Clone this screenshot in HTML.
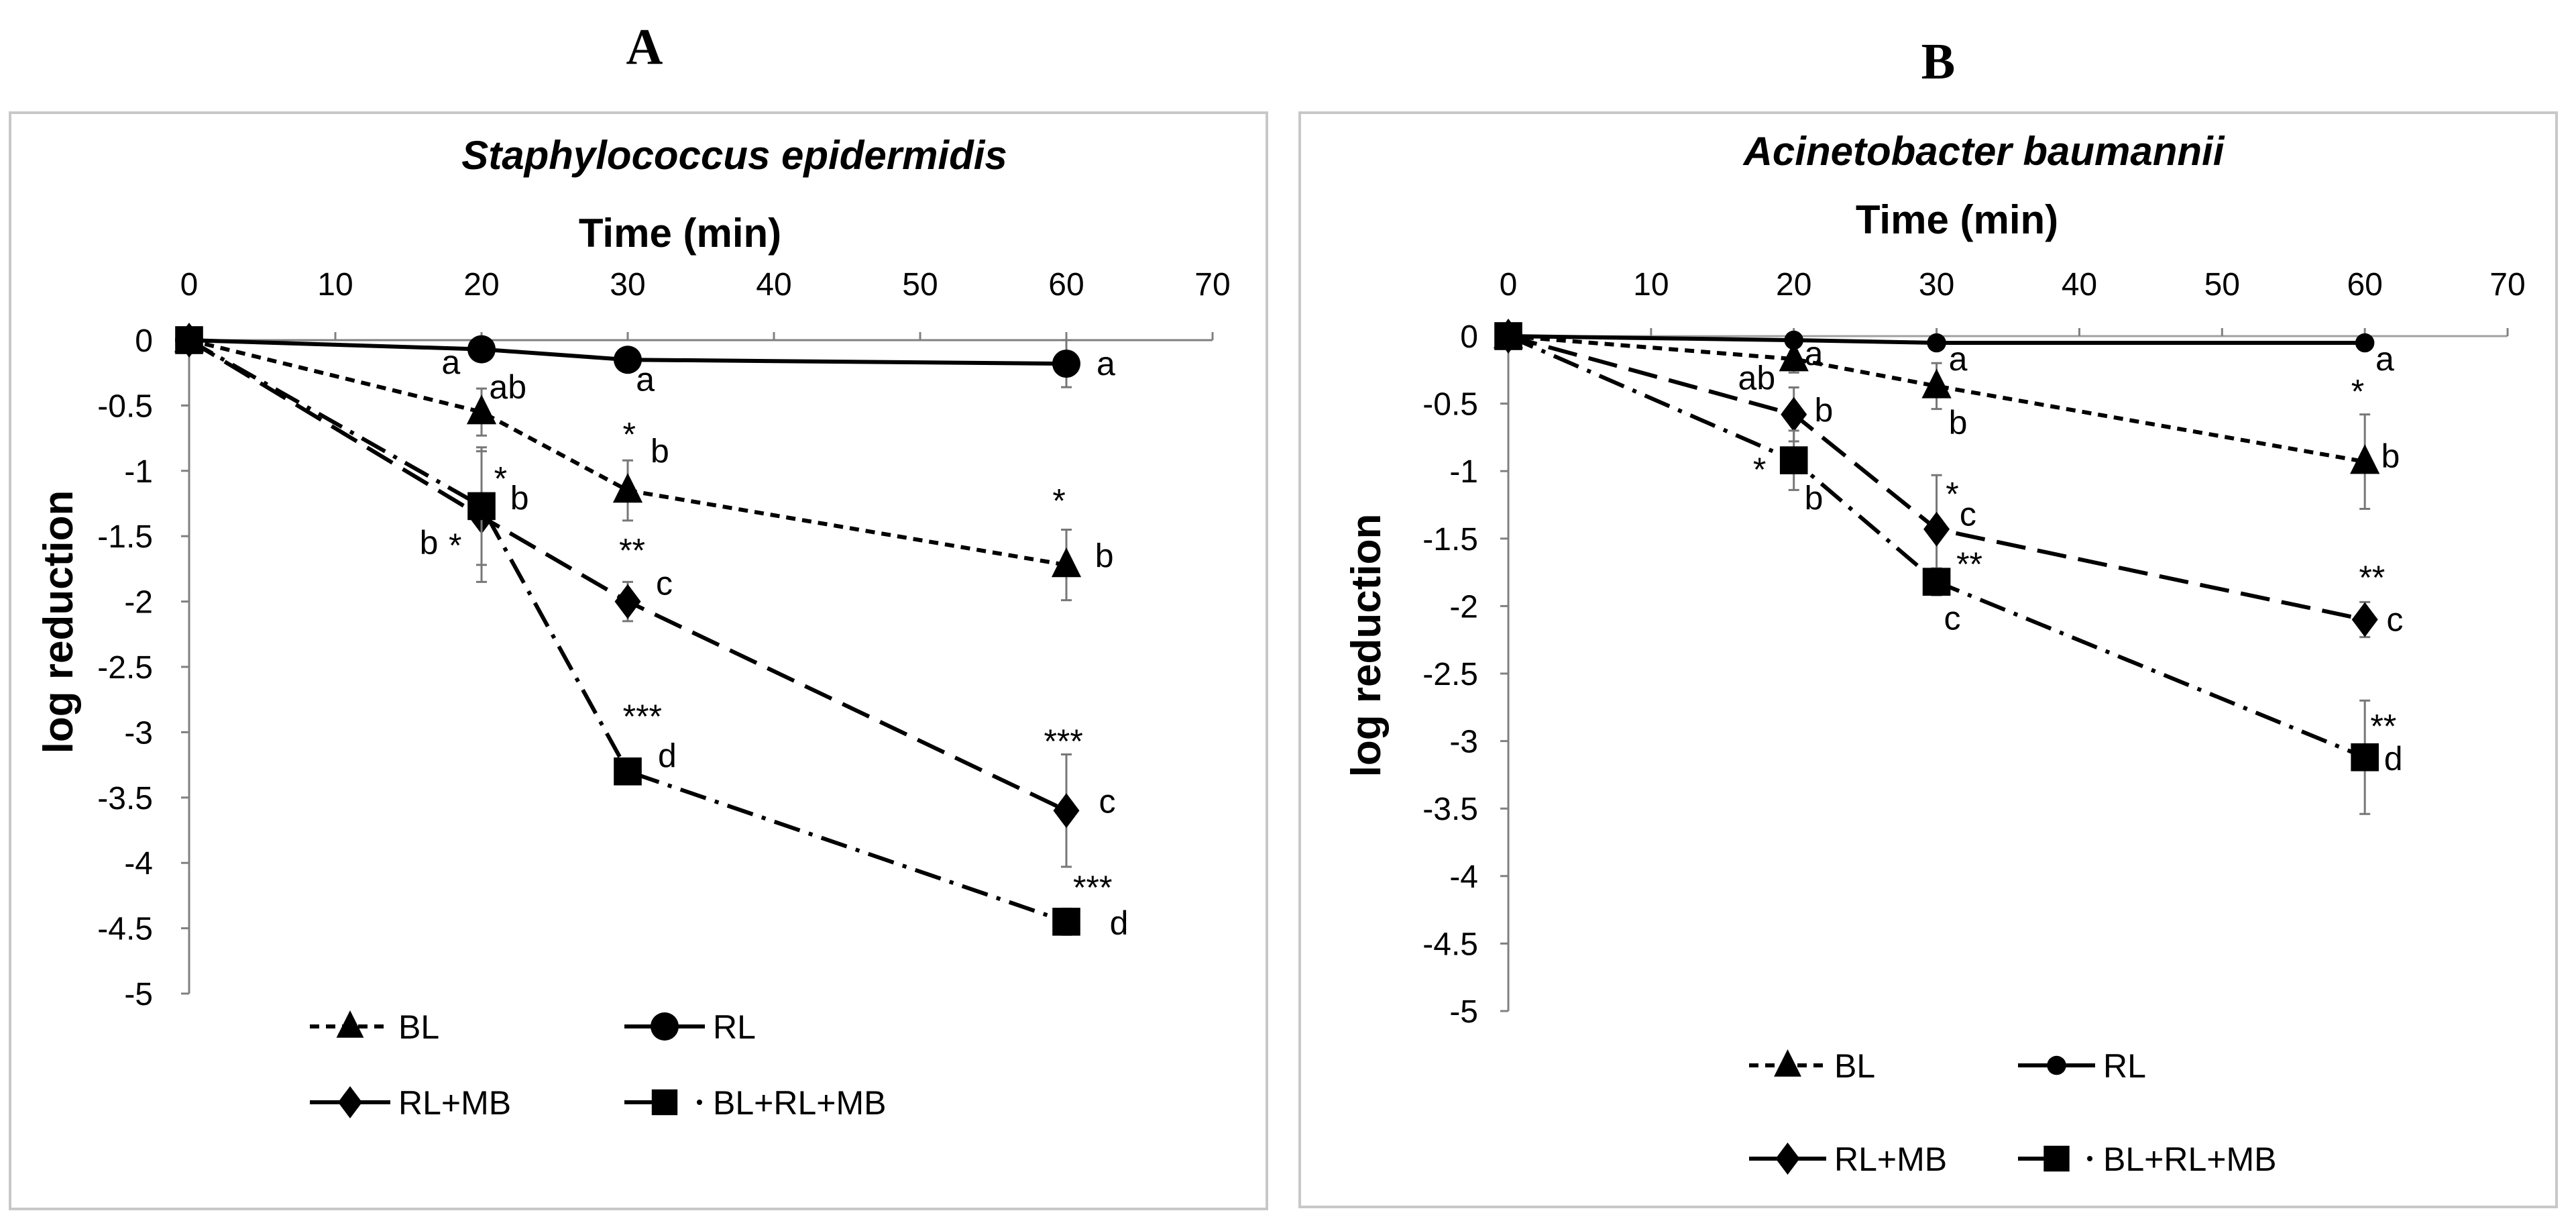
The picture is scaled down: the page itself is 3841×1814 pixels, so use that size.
<!DOCTYPE html>
<html><head><meta charset="utf-8"><style>
html,body{margin:0;padding:0;background:#fff}
svg{display:block}
text{font-family:"Liberation Sans",sans-serif;fill:#000}
</style></head><body>
<svg id="svg" width="3841" height="1814" viewBox="0 0 3841 1814" xmlns="http://www.w3.org/2000/svg">
<rect x="15" y="168" width="1874" height="1634" fill="#fff" stroke="#c8c8c8" stroke-width="4"/>
<rect x="1938" y="168" width="1874" height="1631" fill="#fff" stroke="#c8c8c8" stroke-width="4"/>
<text x="961" y="95" text-anchor="middle" style="font-family:'Liberation Serif',serif;font-weight:bold;font-size:76px">A</text>
<text x="2890" y="117" text-anchor="middle" style="font-family:'Liberation Serif',serif;font-weight:bold;font-size:76px">B</text>
<g id="ga"></g><g id="gb"></g>
</svg>
<script>
const xTicks=[0,10,20,30,40,50,60,70];
const yTicks=[0,-0.5,-1,-1.5,-2,-2.5,-3,-3.5,-4,-4.5,-5];
const times=[0,20,30,60];
const seriesNames=["BL","RL","RL+MB","BL+RL+MB"];
const aBL=[0,-0.55,-1.15,-1.72], aBLerr=[0,0.18,0.23,0.27];
const aRL=[0,-0.07,-0.15,-0.18], aRLerr=[0,0.04,0.05,0.18];
const aRLMB=[0,-1.35,-2.0,-3.6], aRLMBerr=[0,0.5,0.15,0.43];
const aBRM=[0,-1.27,-3.3,-4.45], aBRMerr=[0,0.45,0.05,0.1];
const bBL=[0,-0.17,-0.37,-0.93], bBLerr=[0,0.1,0.17,0.35];
const bRL=[0,-0.03,-0.05,-0.05], bRLerr=[0,0.02,0.02,0.02];
const bRLMB=[0,-0.58,-1.43,-2.1], bRLMBerr=[0,0.2,0.4,0.13];
const bBRM=[0,-0.92,-1.82,-3.12], bBRMerr=[0,0.22,0.1,0.42];
const aNotes=[["a",17.9,-0.17],["a",31.2,-0.30],["a",62.7,-0.18],["ab",21.8,-0.36],["*",30.1,-0.72],["b",32.2,-0.85],["*",59.5,-1.23],["b",62.6,-1.65],["*",21.3,-1.06],["b",22.6,-1.21],["b",16.4,-1.55],["*",18.2,-1.57],["**",30.3,-1.61],["c",32.5,-1.86],["***",31.0,-2.88],["d",32.7,-3.18],["***",59.8,-3.07],["c",62.8,-3.53],["***",61.8,-4.19],["d",63.6,-4.46]];
const bNotes=[["a",21.4,-0.13],["a",31.5,-0.17],["a",61.4,-0.17],["ab",17.4,-0.31],["b",31.5,-0.64],["*",59.5,-0.41],["b",61.8,-0.89],["b",22.1,-0.55],["*",17.6,-0.99],["b",21.4,-1.20],["*",31.1,-1.17],["c",32.2,-1.32],["**",32.3,-1.69],["c",31.1,-2.09],["**",60.5,-1.79],["c",62.1,-2.10],["**",61.3,-2.89],["d",62,-3.13]];

const NS="http://www.w3.org/2000/svg";
function mk(p,tag,at){const e=document.createElementNS(NS,tag);for(const k in at)e.setAttribute(k,at[k]);p.appendChild(e);return e;}
const dashes={"BL":"14,10","RL":"none","RL+MB":"44,18","BL+RL+MB":"40,14,6,14"};
function marker(g,type,cx,cy,s){
  let e;
  if(type==="BL") e=mk(g,"polygon",{points:`${cx},${cy-s} ${cx-s*0.85},${cy+s*0.7} ${cx+s*0.85},${cy+s*0.7}`,fill:"#000"});
  else if(type==="RL") e=mk(g,"circle",{cx:cx,cy:cy,r:s*0.75,fill:"#000"});
  else if(type==="RL+MB") e=mk(g,"polygon",{points:`${cx},${cy-s} ${cx+s*0.75},${cy} ${cx},${cy+s} ${cx-s*0.75},${cy}`,fill:"#000"});
  else e=mk(g,"rect",{x:cx-s*0.8,y:cy-s*0.8,width:s*1.6,height:s*1.6,fill:"#000"});
  return e;
}
function panel(g,cfg){
  const X=v=>cfg.x0+(cfg.x70-cfg.x0)*v/70;
  const Y=v=>cfg.y0+(cfg.y5-cfg.y0)*(-v)/5;
  const ax=mk(g,"line",{x1:X(0),y1:Y(0),x2:X(70),y2:Y(0),stroke:cfg.axisCol,"stroke-width":3});
  
  
  const ay=mk(g,"line",{x1:X(0),y1:Y(0),x2:X(0),y2:Y(-5),stroke:"#808080","stroke-width":3});
  
  
  xTicks.forEach(t=>{
    mk(g,"line",{x1:X(t),y1:Y(0),x2:X(t),y2:Y(0)-12,stroke:"#808080","stroke-width":3});
    const tx=mk(g,"text",{x:X(t),y:440,"text-anchor":"middle","font-size":48});
    tx.textContent=t;
    
    
  });
  yTicks.forEach(t=>{
    mk(g,"line",{x1:X(0)-12,y1:Y(t),x2:X(0),y2:Y(t),stroke:"#808080","stroke-width":3});
    const tx=mk(g,"text",{x:cfg.ylabX,y:Y(t)+17,"text-anchor":"end","font-size":48});
    tx.textContent=t;
    
    
  });
  const st=mk(g,"text",{x:cfg.subX,y:cfg.subY,"text-anchor":"middle","font-size":60,"font-style":"italic","font-weight":"bold"});
  st.textContent=cfg.sub;
  
  
  const xt=mk(g,"text",{x:cfg.timeX,y:cfg.timeY,"text-anchor":"middle","font-size":60,"font-weight":"bold"});
  xt.textContent="Time (min)";
  
  
  const yt=mk(g,"text",{x:0,y:0,"text-anchor":"middle","font-size":62,"font-weight":"bold",transform:`translate(${cfg.ltX},${cfg.ltY}) rotate(-90)`});
  yt.textContent="log reduction";
  
  
  const data=[[cfg.d[0],cfg.e[0]],[cfg.d[1],cfg.e[1]],[cfg.d[2],cfg.e[2]],[cfg.d[3],cfg.e[3]]];
  seriesNames.forEach((nm,i)=>{
    const [vals,errs]=data[i];
    const sg=mk(g,"g",{});
    
    
    times.forEach((t,j)=>{ if(errs[j]>0){ const eb=mk(sg,"path",{d:`M${X(t)},${Y(vals[j]+errs[j])}V${Y(vals[j]-errs[j])}M${X(t)-8},${Y(vals[j]+errs[j])}h16M${X(t)-8},${Y(vals[j]-errs[j])}h16`,stroke:"#777","stroke-width":3,fill:"none"});
      
      }});
    const pts=times.map((t,j)=>X(t)+","+Y(vals[j])).join(" ");
    const ln=mk(sg,"polyline",{points:pts,fill:"none",stroke:"#000","stroke-width":6});
    if(dashes[nm]!=="none") ln.setAttribute("stroke-dasharray",dashes[nm]);
    
    
    times.forEach((t,j)=>{const m=marker(sg,nm,X(t),Y(vals[j]),nm==="RL"?cfg.circ:26);
      
      });
  });
  cfg.notes.forEach(n=>{
    const tx=mk(g,"text",{x:X(n[1]),y:Y(n[2])+17,"text-anchor":"middle","font-size":50});
    tx.textContent=n[0];
    
    
  });
  seriesNames.forEach((nm,i)=>{
    const lx=cfg.leg[i%2], ly=cfg.legY[Math.floor(i/2)];
    const lg=mk(g,"g",{});
    
    
    const l=mk(lg,"line",{x1:lx,y1:ly,x2:lx+(nm==="BL+RL+MB"?cfg.legW*0.6:cfg.legW),y2:ly,stroke:"#000","stroke-width":6});
    if(nm==="BL") l.setAttribute("stroke-dasharray","14,10");
    if(nm==="BL+RL+MB") mk(lg,"circle",{cx:lx+cfg.legW-8,cy:ly,r:4,fill:"#000"});
    marker(lg,nm,lx+cfg.legW/2,ly,nm==="RL"?cfg.circ:24);
    const tx=mk(lg,"text",{x:lx+cfg.legW+12,y:ly+18,"font-size":50});
    tx.textContent=nm;
  });
}
panel(document.getElementById("ga"),{x0:282,x70:1808,y0:507,y5:1481,axisCol:"#808080",ylabX:228,sub:"Staphylococcus epidermidis",subX:1095,subY:252,timeX:1014,timeY:368,ltX:108,ltY:927,circ:28,
 d:[aBL,aRL,aRLMB,aBRM],e:[aBLerr,aRLerr,aRLMBerr,aBRMerr],notes:aNotes,leg:[462,931],legW:120,legY:[1530,1643]});
panel(document.getElementById("gb"),{x0:2249,x70:3739,y0:501,y5:1507,axisCol:"#a0a0a0",ylabX:2204,sub:"Acinetobacter baumannii",subX:2958,subY:246,timeX:2918,timeY:348,ltX:2058,ltY:962,circ:19,
 d:[bBL,bRL,bRLMB,bBRM],e:[bBLerr,bRLerr,bRLMBerr,bBRMerr],notes:bNotes,leg:[2608,3009],legW:115,legY:[1588,1727]});
</script>
</body></html>
